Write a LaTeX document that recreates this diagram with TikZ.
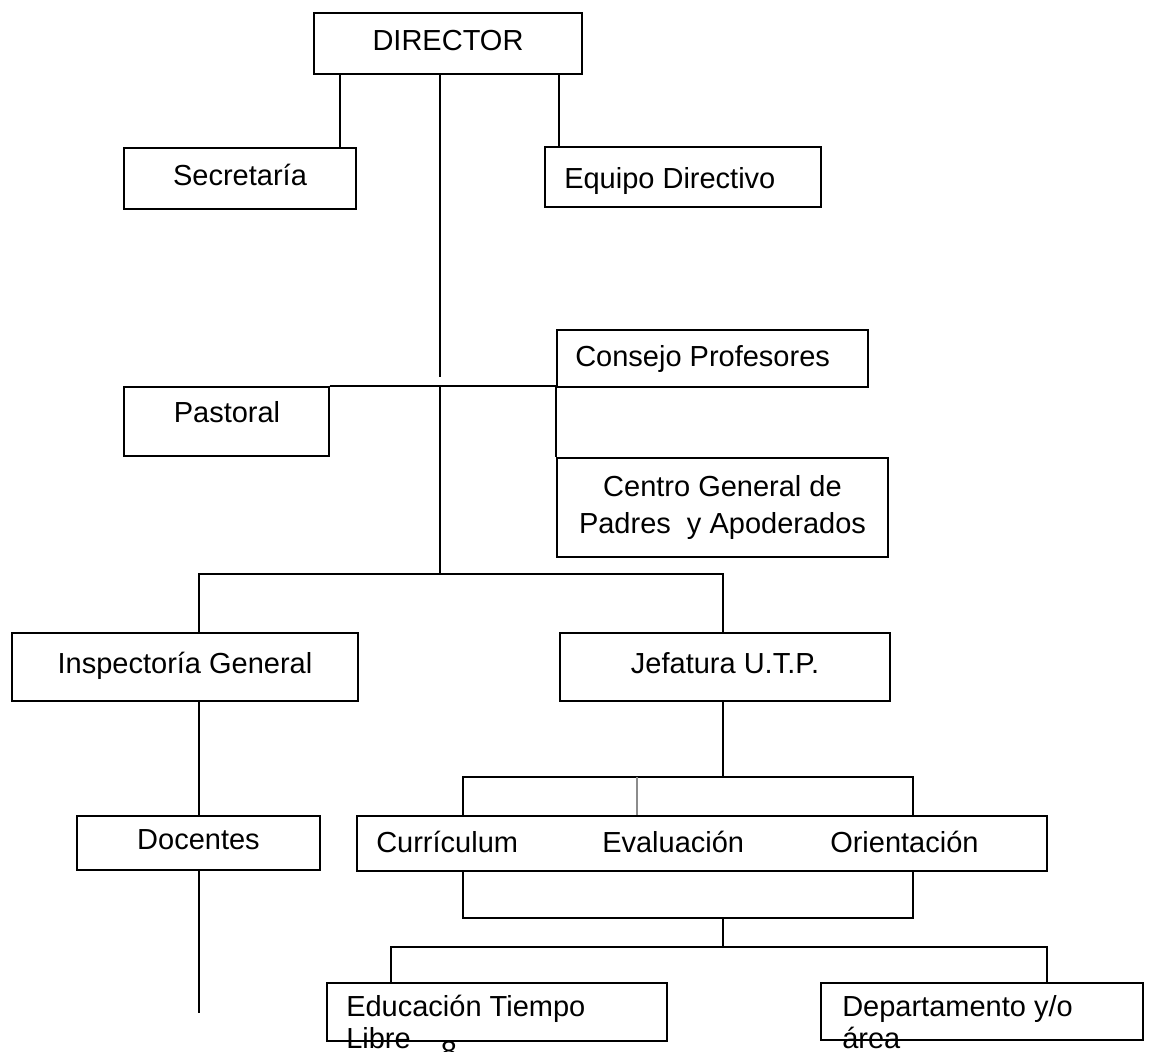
\documentclass[tikz,border=0pt]{standalone}
\usepackage{fontspec}
\setmainfont{Liberation Sans}
\tikzset{
	box/.style={draw, line width=1pt, inner sep=0pt, text height=15.6pt, text depth=5.4pt},
	wh/.style 2 args={minimum width=#1*0.75pt, minimum height=#2*0.75pt},
	link/.style={line width=1.7pt},
	faint link/.style={line width=0.9pt, black!45},
	lbl/.style={inner sep=0pt, anchor=base west},
}

\begin{document}
\begin{tikzpicture}[x=0.75pt, y=-0.75pt, font=\fontsize{21.75}{24}\selectfont]
			\useasboundingbox (0,0) rectangle (1150,1051);
			\node[box, wh={268}{61}] (dir) at (448,43.5) {DIRECTOR};
			\node[box, wh={232}{61}] (secr) at (240,178.5) {Secretaría};
			\node[box, wh={276}{60}] (equipo) at (683,177) {};
			\node[lbl] (tequipo) at (564,188) {Equipo Directivo};
			\node[box, wh={311}{57}] (consejo) at (712.5,358.5) {};
			\node[lbl] (tconsejo) at (575,366) {Consejo Profesores};
			\node[box, wh={205}{69}] (pastoral) at (226.5,421.5) {};
			\node[lbl, anchor=base] (tpastoral) at (227,422) {Pastoral};
			\node[draw, line width=1pt, inner sep=0pt, align=center, wh={331}{99}, font=\fontsize{21.75}{27.75}\selectfont] (centro) at (722.5,507.5) {Centro General de\\Padres~ y Apoderados};
			\node[box, wh={346}{68}] (insp) at (185,667) {Inspectoría General};
			\node[box, wh={330}{68}] (jefe) at (725,667) {Jefatura U.T.P.};
			\node[box, wh={243}{54}] (doc) at (198.5,843) {Docentes};
			\node[box, wh={690}{55}] (areas) at (702,843.5) {};
			\node[lbl] (tcurr) at (376,852) {Currículum};
			\node[lbl] (teval) at (602,852) {Evaluación};
			\node[lbl] (torie) at (830,852) {Orientación};
			\node[box, wh={340}{58}] (educ) at (497,1012) {};
			\node[lbl] (teduc) at (346,1016) {Educación Tiempo};
			\node[lbl] (tlibre) at (346,1048) {Libre};
			\node[box, wh={322}{57}] (depto) at (982,1011.5) {};
			\node[lbl] (tdepto) at (842,1016) {Departamento y/o};
			\node[lbl] (tarea) at (842,1048) {área};
			\node[lbl, anchor=base] (pag) at (449,1061) {8};

			\coordinate (xs) at (340,0);
			\coordinate (xc) at (440,0);
			\coordinate (xe) at (559,0);
			\coordinate (xi) at (199,0);
			\coordinate (xj) at (723,0);
			\coordinate (xa) at (463,0);
			\coordinate (xb) at (913,0);
			\coordinate (xg) at (637,0);
			\coordinate (xl) at (391,0);
			\coordinate (xr) at (1047,0);
			\coordinate (gap) at (0,377);
			\coordinate (bar1) at (0,574);
			\coordinate (bar2) at (0,777);
			\coordinate (bar3) at (0,918);
			\coordinate (bar4) at (0,947);
			\coordinate (tail) at (199,1013);

			\draw[link] (dir.south -| xs) -- (secr.north -| xs);
			\draw[link] (dir.south -| xe) -- (equipo.north -| xe);
			\draw[link] (dir.south -| xc) -- (gap -| xc);
			\draw[link] (pastoral.north east) -| (centro.north west);
			\draw[link] (pastoral.north east -| xc) -- (bar1 -| xc);
			\draw[link] (insp.north -| xi) -- (bar1 -| xi) -- (bar1 -| xj) -- (jefe.north -| xj);
			\draw[link] (insp.south -| xi) -- (doc.north -| xi);
			\draw[link] (doc.south -| xi) -- (tail);
			\draw[link] (jefe.south -| xj) -- (bar2 -| xj);
			\draw[link] (areas.north -| xa) -- (bar2 -| xa) -- (bar2 -| xb) -- (areas.north -| xb);
			\draw[faint link] (bar2 -| xg) -- (areas.north -| xg);
			\draw[link] (areas.south -| xa) -- (bar3 -| xa) -- (bar3 -| xb) -- (areas.south -| xb);
			\draw[link] (bar3 -| xj) -- (bar4 -| xj);
			\draw[link] (educ.north -| xl) -- (bar4 -| xl) -- (bar4 -| xr) -- (depto.north -| xr);
		\end{tikzpicture}
\end{document}
